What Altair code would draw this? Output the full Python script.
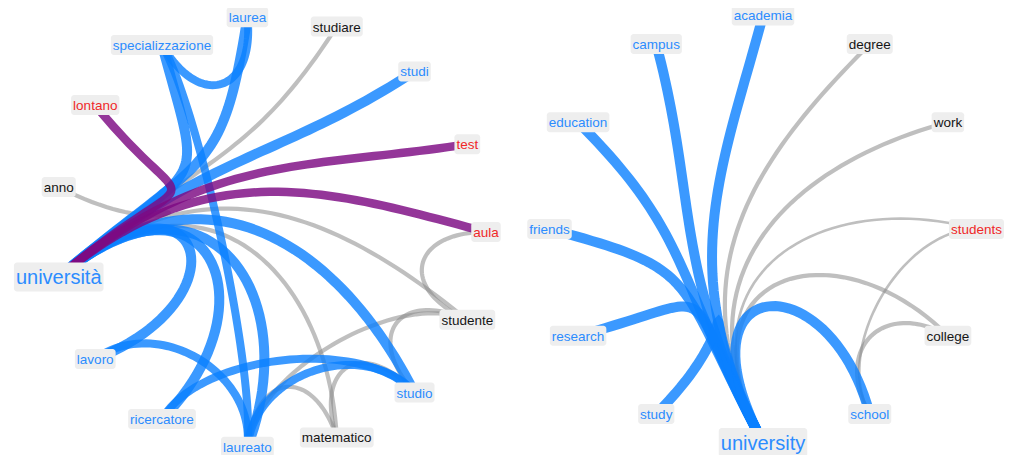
import math
import altair as alt
import pandas as pd

# ------------------------------------------------------------------ data
# Italian network (nodes in circular-layout order, counter-clockwise from the right)
it_words = ["aula", "test", "studi", "studiare", "laurea", "specializzazione",
            "lontano", "anno", "università", "lavoro", "ricercatore", "laureato",
            "matematico", "studio", "studente"]
it_valence = ["neg", "neg", "pos", "neu", "pos", "pos",
              "neg", "neu", "pos", "pos", "pos", "pos",
              "neu", "pos", "neu"]
it_hub = "università"
it_src = ["università"] * 14 + ["specializzazione", "laureato", "lavoro", "ricercatore",
                                "laureato", "aula", "studente", "studente", "matematico",
                                "laureato"]
it_dst = ["lontano", "test", "aula", "anno", "studiare", "studi", "laurea",
          "specializzazione", "lavoro", "ricercatore", "laureato", "studio",
          "studente", "matematico",
          "laurea", "specializzazione", "laureato", "studio", "studio", "studente",
          "laureato", "studio", "studio", "matematico"]
it_kind = ["mix", "mix", "mix", "neu", "neu", "pos", "pos", "pos", "pos", "pos", "pos",
           "pos", "neu", "neu",
           "pos", "pos", "pos", "pos", "pos", "neu", "neu", "neu", "neu", "neu"]
it_strength = [3, 3, 3, 2, 2, 3, 3, 3, 3, 3, 3, 3, 2, 2,
               2, 2, 2, 2, 2, 2, 2, 2, 2, 2]

# English network
en_words = ["students", "work", "degree", "academia", "campus", "education",
            "friends", "research", "study", "university", "school", "college"]
en_valence = ["neg", "neu", "neu", "pos", "pos", "pos",
              "pos", "pos", "pos", "pos", "pos", "neu"]
en_hub = "university"
en_src = ["university"] * 11 + ["students", "college"]
en_dst = ["academia", "campus", "education", "friends", "research", "study", "school",
          "degree", "work", "college", "students", "school", "school"]
en_kind = ["pos"] * 7 + ["neu"] * 6
en_strength = [3, 3, 3, 3, 3, 3, 3, 2, 2, 2, 1, 1, 2]

# ------------------------------------------------------------------ styles / layout
EDGE_COLOR = {"pos": "#0a80ff", "mix": "#7d0a82", "neu": "#8a8a8a"}
EDGE_OPACITY = {"pos": 0.8, "mix": 0.82, "neu": 0.55}
EDGE_WIDTH = {("pos", 3): 10, ("pos", 2): 8, ("mix", 3): 8.5,
              ("neu", 2): 4.2, ("neu", 1): 2.6}
TEXT_COLOR = {"pos": "#2b8cff", "neg": "#f02828", "neu": "#151515"}
BOX_COLOR = "#eeeeee"
FONT = "Liberation Sans"
FS_NODE, FS_HUB = 13.5, 20

PANELS = [
    dict(words=it_words, valence=it_valence, hub=it_hub, src=it_src, dst=it_dst,
         kind=it_kind, strength=it_strength, cx=270.0, cy=232.0, r=216.0),
    dict(words=en_words, valence=en_valence, hub=en_hub, src=en_src, dst=en_dst,
         kind=en_kind, strength=en_strength, cx=763.0, cy=229.0, r=213.5),
]

# Arial / Liberation Sans advance widths (per 1000 em)
CW = {"a": 556, "b": 556, "c": 500, "d": 556, "e": 556, "f": 278, "g": 556, "h": 556,
      "i": 222, "j": 222, "k": 500, "l": 222, "m": 833, "n": 556, "o": 556, "p": 556,
      "q": 556, "r": 333, "s": 500, "t": 278, "u": 556, "v": 500, "w": 722, "x": 500,
      "y": 500, "z": 500, "à": 556}


def text_width(s, fs):
    return sum(CW.get(ch, 556) for ch in s) / 1000.0 * fs


def rot(v, deg):
    a = math.radians(deg)
    return (v[0] * math.cos(a) - v[1] * math.sin(a), v[0] * math.sin(a) + v[1] * math.cos(a))


def unit(dx, dy):
    d = math.hypot(dx, dy) or 1.0
    return (dx / d, dy / d)


TH_S, TH_T = 28.0, 15.0      # bundle rotation at hub / target ends
KS, KT = 0.9, 0.75           # control lengths for hub edges (fraction of radius)
KC, KMAX = 0.9, 0.35         # control lengths for other edges
NSAMP = 48

node_rows, edge_rows = [], []
eid = 0
for P in PANELS:
    n = len(P["words"])
    pos = {}
    for i, w in enumerate(P["words"]):
        a = 2 * math.pi * i / n
        x = P["cx"] + P["r"] * math.cos(a)
        y = P["cy"] - P["r"] * math.sin(a)
        pos[w] = (x, y)
        hub = (w == P["hub"])
        fs = FS_HUB if hub else FS_NODE
        tw = text_width(w, fs)
        h = 29 if hub else 20
        node_rows.append(dict(word=w, x=x, y=y, ty=y + 0.37 * fs, fs=fs,
                              x0=x - tw / 2 - 2, x1=x + tw / 2 + 2,
                              y0=y - h / 2, y1=y + h / 2,
                              tcolor=TEXT_COLOR[P["valence"][i]]))
    C = (P["cx"], P["cy"])
    for s, t, k, st in zip(P["src"], P["dst"], P["kind"], P["strength"]):
        p0, p3 = pos[s], pos[t]
        d0 = unit(C[0] - p0[0], C[1] - p0[1])
        d3 = unit(C[0] - p3[0], C[1] - p3[1])
        if s == P["hub"]:
            d0 = rot(d0, -TH_S)
            d3 = rot(d3, TH_T)
            l0, l3 = KS * P["r"], KT * P["r"]
        else:
            chord = math.hypot(p3[0] - p0[0], p3[1] - p0[1])
            l0 = l3 = min(KC * chord, KMAX * P["r"])
        p1 = (p0[0] + l0 * d0[0], p0[1] + l0 * d0[1])
        p2 = (p3[0] + l3 * d3[0], p3[1] + l3 * d3[1])
        for j in range(NSAMP + 1):
            u = j / NSAMP
            b0, b1, b2, b3 = (1 - u) ** 3, 3 * u * (1 - u) ** 2, 3 * u * u * (1 - u), u ** 3
            edge_rows.append(dict(
                eid=eid, t=j, kind=k,
                x=b0 * p0[0] + b1 * p1[0] + b2 * p2[0] + b3 * p3[0],
                y=b0 * p0[1] + b1 * p1[1] + b2 * p2[1] + b3 * p3[1],
                color=EDGE_COLOR[k], op=EDGE_OPACITY[k], w=EDGE_WIDTH[(k, st)]))
        eid += 1

nodes = pd.DataFrame(node_rows)
edges = pd.DataFrame(edge_rows)

W, H = 996, 447
xs = alt.Scale(domain=[8, 8 + W], nice=False, zero=False)
ys = alt.Scale(domain=[8 + H, 8], nice=False, zero=False)


def edge_layer(kind):
    return alt.Chart(edges[edges.kind == kind]).mark_line(strokeCap="butt").encode(
        x=alt.X("x:Q", scale=xs, axis=None),
        y=alt.Y("y:Q", scale=ys, axis=None),
        detail="eid:N",
        order="t:Q",
        color=alt.Color("color:N", scale=None),
        opacity=alt.Opacity("op:Q", scale=None),
        strokeWidth=alt.StrokeWidth("w:Q", scale=None),
    )


boxes = alt.Chart(nodes).mark_rect(cornerRadius=3, color=BOX_COLOR).encode(
    x=alt.X("x0:Q", scale=xs, axis=None), x2="x1:Q",
    y=alt.Y("y0:Q", scale=ys, axis=None), y2="y1:Q",
)

labels = alt.Chart(nodes).mark_text(font=FONT, align="center", baseline="alphabetic").encode(
    x=alt.X("x:Q", scale=xs, axis=None),
    y=alt.Y("ty:Q", scale=ys, axis=None),
    text="word:N",
    size=alt.Size("fs:Q", scale=None),
    color=alt.Color("tcolor:N", scale=None),
)

chart = alt.layer(
    edge_layer("neu"), edge_layer("pos"), edge_layer("mix"), boxes, labels
).properties(
    width=W, height=H, padding=0, background="white",
    autosize=alt.AutoSizeParams(type="none"),
).configure_view(stroke=None)

chart.save("out.html", embed_options={"renderer": "svg", "actions": False})
